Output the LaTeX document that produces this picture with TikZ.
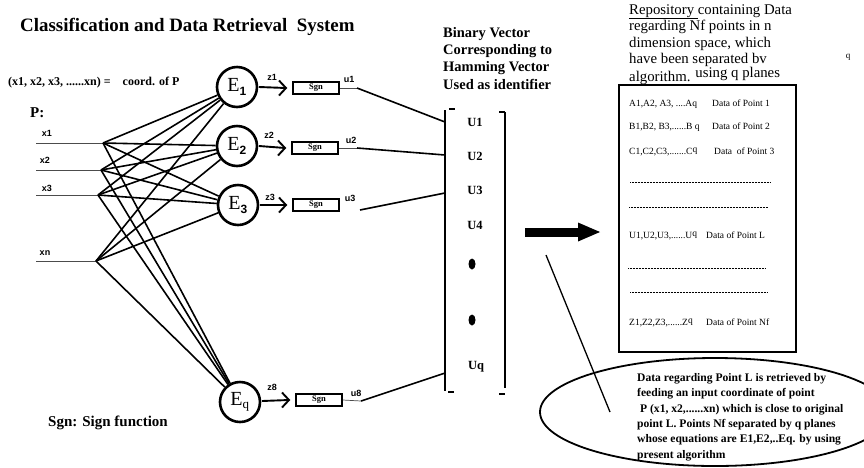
\documentclass[tikz,border=0pt]{standalone}
\usepackage{fontspec}
\setmainfont{Liberation Serif}
\setsansfont{Liberation Sans}
\usetikzlibrary{arrows.meta}

\begin{document}
\begin{tikzpicture}
    [x=1pt, y=-1pt,
    every node/.style={inner sep=0pt},
    heading/.style={anchor=west, font=\bfseries\fontsize{18.9}{20}\selectfont},
    note/.style={anchor=west, font=\bfseries\fontsize{12}{13}\selectfont},
    small label/.style={font=\sffamily\bfseries\fontsize{9}{10}\selectfont},
    plane/.style={circle, draw, line width=2.6pt, minimum size=40pt, font=\fontsize{20}{20}\selectfont},
    sgn/.style={rectangle, draw, line width=1.8pt, minimum width=46pt, minimum height=12.5pt, font=\bfseries\fontsize{8.5}{9}\selectfont},
    in line/.style={line width=0.7pt, black!70},
    wire/.style={line width=1.6pt},
    vec entry/.style={font=\bfseries\fontsize{12.5}{13}\selectfont},
    entry/.style={anchor=base west, font=\fontsize{9.5}{10}\selectfont},
    dots/.style={line width=0.5pt, dash pattern=on 0.5pt off 1pt}]

    \path[use as bounding box] (0,0) rectangle (864,467);

    % title and notes
    \node[heading] (title) at (20,27) {Classification and Data Retrieval\ \ System};
    \node[note] (coord) at (8,83) {(x1, x2, x3, ......xn) = \ \ \ coord. of P};
    \node[anchor=west, font=\bfseries\fontsize{15}{16}\selectfont] (P) at (30,113) {P:};
    \node[anchor=west, font=\bfseries\fontsize{15}{16}\selectfont] (sgnnote) at (48,423) {Sgn: Sign function};

    % inputs
    \node[small label] (lx1) at (47,133) {x1};
    \node[small label] (lx2) at (45,160) {x2};
    \node[small label] (lx3) at (47,188) {x3};
    \node[small label] (lxn) at (45,253) {xn};
    \coordinate (in1) at (36,143);
    \coordinate (in2) at (36,170);
    \coordinate (in3) at (36,195);
    \coordinate (inn) at (36,261);
    \coordinate (x1) at (103,143);
    \coordinate (x2) at (101,170);
    \coordinate (x3) at (98,195);
    \coordinate (xn) at (96,261);
    \draw[in line] (in1) -- (x1);
    \draw[in line] (in2) -- (x2);
    \draw[in line] (in3) -- (x3);
    \draw[in line] (inn) -- (xn);

    % planes
    \node[plane] (E1) at (237,87) {E\textsubscript{\sffamily\bfseries\fontsize{12}{12}\selectfont 1}};
    \node[plane] (E2) at (237,146) {E\textsubscript{\sffamily\bfseries\fontsize{12}{12}\selectfont 2}};
    \node[plane] (E3) at (238,205) {E\textsubscript{\sffamily\bfseries\fontsize{12}{12}\selectfont 3}};
    \node[plane] (Eq) at (240,402) {E\textsubscript{\fontsize{13}{13}\selectfont q}};

    % sign units
    \node[sgn] (sgn1) at (316,88) {Sgn};
    \node[sgn] (sgn2) at (315,148) {Sgn};
    \node[sgn] (sgn3) at (316,205) {Sgn};
    \node[sgn] (sgn8) at (319,400) {Sgn};
    \coordinate (o1) at (259,87);
    \coordinate (o2) at (259,146);
    \coordinate (o3) at (260,205);
    \coordinate (o8) at (262,401);
    \coordinate (i1) at (286,88);
    \coordinate (i2) at (285,148);
    \coordinate (i3) at (286,205);
    \coordinate (i8) at (289,400);

    % z arrows
    \draw[line width=1.9pt] (o1) -- (i1) (o2) -- (i2) (o3) -- (i3) (o8) -- (i8);
    \draw[line width=1.9pt, line join=miter] (i1) +(-7,-7.5) -- (i1) -- +(-7,7.5)
        (i2) +(-7,-7.5) -- (i2) -- +(-7,7.5)
        (i3) +(-7,-7.5) -- (i3) -- +(-7,7.5)
        (i8) +(-7,-7.5) -- (i8) -- +(-7,7.5);

    \draw[wire] (x1) -- (E1);
    \draw[wire] (x1) -- (E2);
    \draw[wire] (x1) -- (E3);
    \draw[wire] (x1) -- (Eq);
    \draw[wire] (x2) -- (E1);
    \draw[wire] (x2) -- (E2);
    \draw[wire] (x2) -- (E3);
    \draw[wire] (x2) -- (Eq);
    \draw[wire] (x3) -- (E1);
    \draw[wire] (x3) -- (E2);
    \draw[wire] (x3) -- (E3);
    \draw[wire] (x3) -- (Eq);
    \draw[wire] (xn) -- (E1);
    \draw[wire] (xn) -- (E2);
    \draw[wire] (xn) -- (E3);
    \draw[wire] (xn) -- (Eq);

    \node[small label] (z1) at (272,77) {z1};
    \node[small label] (z2) at (269,135) {z2};
    \node[small label] (z3) at (270,197) {z3};
    \node[small label] (z8) at (272,387) {z8};
    \node[small label] (u1) at (349,79) {u1};
    \node[small label] (u2) at (351,140) {u2};
    \node[small label] (u3) at (350,198) {u3};
    \node[small label] (u8) at (356,393) {u8};

    % outputs into the vector
    \coordinate (t1) at (357,88);
    \coordinate (t2) at (357,148);
    \coordinate (t3) at (360,210);
    \coordinate (t8) at (361,401);
    \coordinate (b1) at (445,122);
    \coordinate (b2) at (445,155);
    \coordinate (b3) at (445,193);
    \coordinate (b8) at (445,373);
    \draw[in line] (sgn1.east) -- (t1);
    \draw[in line] (sgn2.east) -- (t2);
    \draw[in line] (sgn8.east) -- (t8);
    \draw[wire] (t1) -- (b1);
    \draw[wire] (t2) -- (b2);
    \draw[wire] (t3) -- (b3);
    \draw[wire] (t8) -- (b8);

    % binary vector
    \node[anchor=north west, align=left, font=\bfseries\fontsize{14.5}{17.3}\selectfont] (binvec) at (443,27) {Binary Vector\\Corresponding to\\Hamming Vector\\Used as identifier};
    \draw[line width=1.8pt] (445,110) -- (445,391);
    \draw[line width=1.5pt] (449,109) -- (455,109);
    \draw[line width=1.5pt] (448,392) -- (454,392);
    \draw[line width=1.8pt] (505,112) -- (505,388);
    \draw[line width=1.5pt] (499,112) -- (505,112);
    \draw[line width=1.5pt] (499,394) -- (505,394);
    \node[vec entry] (U1) at (475,122) {U1};
    \node[vec entry] (U2) at (475,156) {U2};
    \node[vec entry] (U3) at (475,190) {U3};
    \node[vec entry] (U4) at (475,225) {U4};
    \fill (472,264) ellipse [x radius=3.5pt, y radius=5.5pt];
    \fill (472,320) ellipse [x radius=3.5pt, y radius=5.5pt];
    \node[vec entry] (Uq) at (476,367) {Uq};

    \coordinate (arr a) at (525,232);
    \coordinate (arr b) at (600,232);
    \draw[line width=9pt, -{Triangle[length=22pt, width=19pt, line width=0pt]}] (arr a) -- (arr b);

    % repository
    \node[anchor=north west, align=left, font=\fontsize{14.8}{16.5}\selectfont] (repo) at (629,4) {\underline{Repository\ }containing Data\\regarding Nf points in n\\dimension space, which\\have been separated bv\\algorithm. \raisebox{4pt}{using q planes}};
    \node[font=\fontsize{9}{10}\selectfont] (stray) at (848,57) {q};
    \node[draw, line width=2.2pt, minimum width=177pt, minimum height=267pt] (repobox) at (707.5,218.5) {};

    \node[entry] (rowA) at (629,106) {A1,A2, A3, ....Aq};
    \node[entry] (dataA) at (712,106) {Data of Point 1};
    \node[entry] (rowB) at (629,129) {B1,B2, B3,......B q};
    \node[entry] (dataB) at (712,129) {Data of Point 2};
    \node[entry] (rowC) at (629,154) {C1,C2,C3,.......C\raisebox{2pt}{q}};
    \node[entry] (dataC) at (714,154) {Data\ \ of Point 3};
    \draw[dots] (630,182) -- (770,182);
    \draw[dots] (629,207) -- (768,207);
    \node[entry] (rowU) at (629,238) {U1,U2,U3,......U\raisebox{2pt}{q}};
    \node[entry] (dataU) at (706,238) {Data of Point L};
    \draw[dots] (628,268) -- (766,268);
    \draw[dots] (630,292) -- (768,292);
    \node[entry] (rowZ) at (629,325) {Z1,Z2,Z3,......Z\raisebox{2pt}{q}};
    \node[entry] (dataZ) at (706,325) {Data of Point Nf};

    % retrieval note
    \draw[line width=1.8pt] (715,412) ellipse [x radius=175pt, y radius=54pt];
    \node[anchor=north west, align=left, font=\bfseries\fontsize{11.6}{15.4}\selectfont] (retrieve) at (637,373) {Data regarding Point L is retrieved by\\feeding an input coordinate of point\\\ P (x1, x2,......xn) which is close to original\\point L. Points Nf separated by q planes\\whose equations are E1,E2,..Eq. by using\\present algorithm};
    \coordinate (lead a) at (546,255);
    \coordinate (lead b) at (610,412);
    \draw[line width=1.3pt] (lead a) -- (lead b);
\end{tikzpicture}
\end{document}
